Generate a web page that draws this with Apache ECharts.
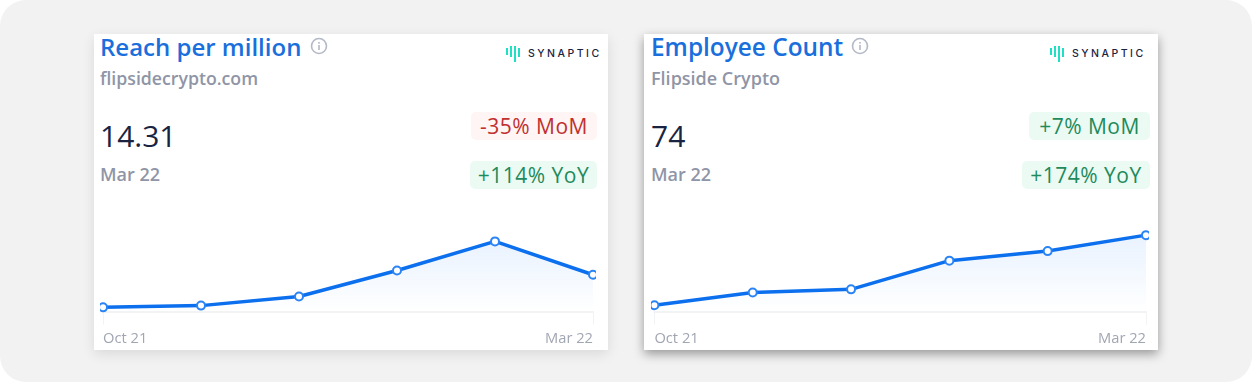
<!DOCTYPE html>
<html>
<head>
<meta charset="utf-8">
<title>Flipside Crypto metrics</title>
<script src="https://cdn.jsdelivr.net/npm/echarts@6/dist/echarts.min.js"></script>
<style>
  html, body { margin: 0; padding: 0; background: #fff; }
  body { width: 1252px; height: 382px; overflow: hidden; font-family: "Open Sans", sans-serif; }
  #panel { position: absolute; left: 0; top: 0; width: 1252px; height: 382px; background: #f2f2f2; border-radius: 26px; }
  .card { position: absolute; top: 34px; width: 514px; height: 316px; background: #fff; }
  #card1 { left: 94px; box-shadow: 0 4px 12px rgba(0,0,0,0.10); }
  #card2 { left: 644px; box-shadow: 0 4px 10px rgba(0,0,0,0.38); }
  .title { position: absolute; top: -4px; font-size: 24px; line-height: 33px; font-weight: 600; color: #1a6fdc; white-space: nowrap; }
  #card2 .title { font-size: 24.4px; }
  .sub { position: absolute; top: 32px; font-size: 17.7px; line-height: 24px; font-weight: 600; color: #8f95a6; white-space: nowrap; }
  #card2 .sub { font-size: 18px; }
  .value { position: absolute; top: 81px; font-size: 30px; line-height: 42px; font-weight: 500; color: #1a2340; }
  .date { position: absolute; top: 128px; font-size: 18px; line-height: 24px; font-weight: 600; color: #8f95a6; }
  .badge { position: absolute; height: 28px; line-height: 29px; border-radius: 5px; font-size: 21px; font-weight: 500; text-align: center; white-space: nowrap; letter-spacing: 0.5px; }
  .up { background: #ebfbf4; color: #1f8a5b; }
  .down { background: #fef5f4; color: #c0302f; }
  .info { position: absolute; top: 3px; width: 18px; height: 18px; }
  .logo { position: absolute; top: 10px; width: 96px; height: 18px; }
  .chart { position: absolute; top: 205px; height: 145px; }
  #chart1 { left: 100px; width: 496px; }
  #chart2 { left: 651px; width: 498px; }
</style>
</head>
<body>
<div id="panel"></div>

<div class="card" id="card1">
  <div class="title" style="left:6px">Reach per million</div>
  <svg class="info" style="left:216px" viewBox="0 0 18 18"><circle cx="9" cy="9" r="7.5" fill="none" stroke="#b4b9c6" stroke-width="1.6"/><rect x="8.2" y="8" width="1.6" height="5" fill="#b4b9c6"/><rect x="8.2" y="5" width="1.6" height="1.7" fill="#b4b9c6"/></svg>
  <svg class="logo" style="left:411px" viewBox="0 0 96 18">
    <g fill="#1fe0c4"><rect x="1" y="4" width="2" height="7"/><rect x="5" y="2" width="2" height="11"/><rect x="9" y="2" width="2" height="16"/><rect x="13" y="4" width="2" height="9"/></g>
    <text x="23" y="13" font-family="Inter, sans-serif" font-size="10.5" font-weight="500" letter-spacing="2.5" fill="#1a2340">SYNAPTIC</text>
  </svg>
  <div class="sub" style="left:6px">flipsidecrypto.com</div>
  <div class="value" style="left:6px">14.31</div>
  <div class="date" style="left:6px">Mar 22</div>
  <div class="badge down" style="left:377px;top:78px;width:126px">-35% MoM</div>
  <div class="badge up" style="left:376px;top:127px;width:127px">+114% YoY</div>
</div>

<div class="card" id="card2">
  <div class="title" style="left:7px">Employee Count</div>
  <svg class="info" style="left:207px" viewBox="0 0 18 18"><circle cx="9" cy="9" r="7.5" fill="none" stroke="#b4b9c6" stroke-width="1.6"/><rect x="8.2" y="8" width="1.6" height="5" fill="#b4b9c6"/><rect x="8.2" y="5" width="1.6" height="1.7" fill="#b4b9c6"/></svg>
  <svg class="logo" style="left:405px" viewBox="0 0 96 18">
    <g fill="#1fe0c4"><rect x="1" y="4" width="2" height="7"/><rect x="5" y="2" width="2" height="11"/><rect x="9" y="2" width="2" height="16"/><rect x="13" y="4" width="2" height="9"/></g>
    <text x="23" y="13" font-family="Inter, sans-serif" font-size="10.5" font-weight="500" letter-spacing="2.5" fill="#1a2340">SYNAPTIC</text>
  </svg>
  <div class="sub" style="left:7px">Flipside Crypto</div>
  <div class="value" style="left:7px">74</div>
  <div class="date" style="left:7px">Mar 22</div>
  <div class="badge up" style="left:385px;top:78px;width:121px">+7% MoM</div>
  <div class="badge up" style="left:378px;top:127px;width:128px">+174% YoY</div>
</div>

<div class="chart" id="chart1"></div>
<div class="chart" id="chart2"></div>

<script>
  const months = ["Oct 21", "Nov 21", "Dec 21", "Jan 22", "Feb 22", "Mar 22"];
  // last values from the big number + MoM badge
  const reachPerMillion = [6.8, 7.2, 9.3, 15.3, 22.0, 14.31];
  const employeeCount = [52, 56, 57, 66, 69, 74];

  function drawLine(el, values, yMin, yMax, grid) {
    const chart = echarts.init(el, null, { renderer: "canvas" });
    chart.setOption({
      animation: false,
      grid: grid,
      xAxis: {
        type: "category",
        data: months,
        boundaryGap: false,
        axisLine: { show: true, lineStyle: { color: "#f1f3f5", width: 2 } },
        axisTick: {
          show: true,
          length: 13,
          interval: (i) => i === 0 || i === months.length - 1,
          lineStyle: { color: "#f1f3f5", width: 1 }
        },
        axisLabel: {
          interval: (i) => i === 0 || i === months.length - 1,
          alignMinLabel: "left",
          alignMaxLabel: "right",
          showMinLabel: true,
          showMaxLabel: true,
          margin: 20,
          color: "#a1a6b3",
          fontFamily: "Open Sans",
          fontSize: 14.7
        },
        splitLine: { show: false }
      },
      yAxis: {
        type: "value",
        min: yMin,
        max: yMax,
        axisLine: { show: false },
        axisTick: { show: false },
        axisLabel: { show: false },
        splitLine: { show: false }
      },
      series: [{
        type: "line",
        data: values,
        clip: false,
        symbol: "circle",
        symbolSize: 8,
        showAllSymbol: true,
        itemStyle: { color: "#ffffff", borderColor: "#2b84f5", borderWidth: 2 },
        lineStyle: { color: "#0b6fee", width: 3.5 },
        areaStyle: {
          origin: "start",
          color: new echarts.graphic.LinearGradient(0, 0, 0, 1, [
            { offset: 0, color: "rgba(30,125,255,0.14)" },
            { offset: 1, color: "rgba(30,125,255,0)" }
          ])
        }
      }]
    });
    return chart;
  }

  drawLine(document.getElementById("chart1"), reachPerMillion, 5.8, 24,
    { left: 3, right: 1.6, top: 27.7, bottom: 38.3 });
  drawLine(document.getElementById("chart2"), employeeCount, 50, 80,
    { left: 3.4, right: 1.4, top: 11, bottom: 38.3 });
</script>
</body>
</html>
